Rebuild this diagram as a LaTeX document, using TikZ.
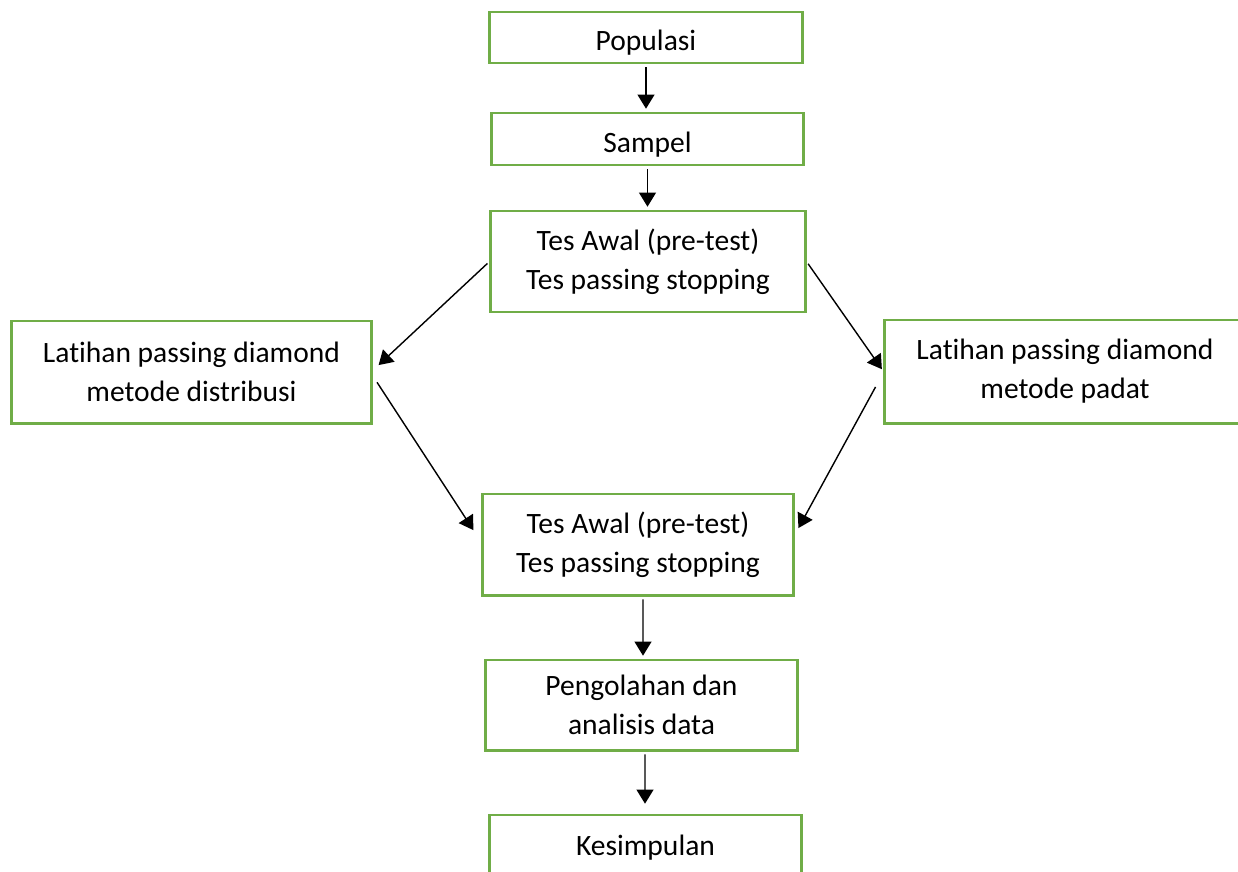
\documentclass[tikz,border=0pt]{standalone}
\usepackage{fontspec}
\setmainfont{Carlito}[Ligatures=NoCommon]
\usetikzlibrary{arrows.meta}

\definecolor{boxgreen}{HTML}{70AD47}

\begin{document}
\begin{tikzpicture}[
            x = 0.025cm, y = -0.025cm, % pixel grid, y going down
            > = {Triangle[length=0.35cm, width=0.42cm]}, % arrow head style
            shorten > = 2pt, % don't touch arrow head to node
            shorten < = 2pt,
            line width = 1pt % line style
        ]

        \tikzstyle{every node}=[font=\fontsize{21}{27.7}\selectfont]
        \tikzstyle{box}=[
            draw = boxgreen,
            line width = 2.1pt,
            fill = white,
            align = center,
            inner sep = 0pt
        ]
        \tikzstyle{low}=[text height = 19pt, text depth = 0pt]

        \useasboundingbox (0,0) rectangle (1238,871);

        \node[box, low, minimum width=7.8cm, minimum height=1.275cm] (pop) at (646,37.5) {Populasi};
        \node[box, low, minimum width=7.775cm, minimum height=1.3cm] (smp) at (647.5,139) {Sampel};
        \node[box, minimum width=7.85cm, minimum height=2.525cm] (pre) at (648,261.5) {Tes Awal (pre-test)\\Tes passing stopping};
        \node[box, minimum width=8.975cm, minimum height=2.55cm] (dist) at (191.5,372) {Latihan passing diamond\\metode distribusi};
        \node[box, minimum width=9cm, minimum height=2.575cm] (padat) at (1065,371.5) {Latihan passing diamond\\metode padat};
        \node[box, minimum width=7.75cm, minimum height=2.525cm] (post) at (638,544.5) {Tes Awal (pre-test)\\Tes passing stopping};
        \node[box, minimum width=7.775cm, minimum height=2.25cm] (olah) at (641.5,705) {Pengolahan dan\\analisis data};
        \node[box, minimum width=7.775cm, minimum height=1.625cm] (simp) at (645.5,847.5) {Kesimpulan};

	\path[->] (pop.south) edge (pop.south |- smp.north);
	\path[->] (smp.south) edge (smp.south |- pre.north);
	\path[->] (pre.west) edge ([shift={(4,-5)}]dist.east);
	\path[->] (pre.east) edge (padat.west);
	\path[->] ([shift={(3,8)}]dist.east) edge ([shift={(-6.5,-12)}]post.west);
	\path[->] ([shift={(-6.6,13)}]padat.west) edge ([shift={(2.6,-14)}]post.east);
	\path[->] ([shift={(5,0)}]post.south) edge ([shift={(1.5,0)}]olah.north);
	\path[->] ([shift={(3.5,0)}]olah.south) edge ([shift={(-0.5,-7)}]simp.north);
    \end{tikzpicture}
\end{document}
